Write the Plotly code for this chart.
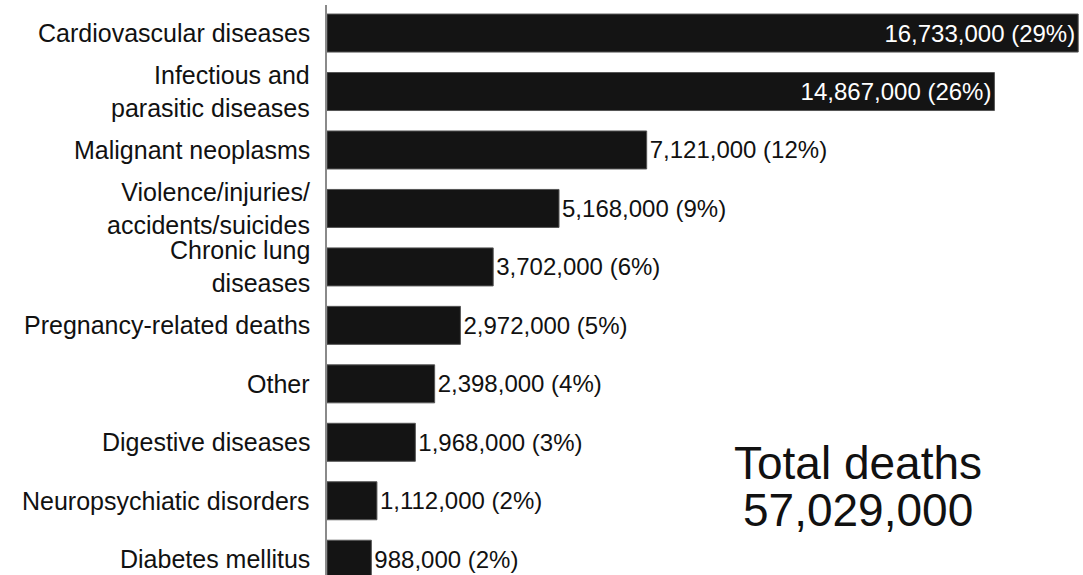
import plotly.graph_objects as go

categories = [
    "Cardiovascular diseases",
    "Infectious and<br>parasitic diseases",
    "Malignant neoplasms",
    "Violence/injuries/<br>accidents/suicides",
    "Chronic lung<br>diseases",
    "Pregnancy-related deaths",
    "Other",
    "Digestive diseases",
    "Neuropsychiatic disorders",
    "Diabetes mellitus",
]
deaths = [16733000, 14867000, 7121000, 5168000, 3702000, 2972000, 2398000, 1968000, 1112000, 988000]
percents = [29, 26, 12, 9, 6, 5, 4, 3, 2, 2]
text_positions = ["inside", "inside", "outside", "outside", "outside", "outside", "outside", "outside", "outside", "outside"]
total_title = "Total deaths"
total_value = "57,029,000"

labels = [f"{v:,} ({p}%)" for v, p in zip(deaths, percents)]
text_colors = ["white" if tp == "inside" else "#111111" for tp in text_positions]

FONT = "Liberation Sans, Arial, Helvetica, sans-serif"

fig = go.Figure(
    go.Bar(
        x=deaths,
        y=categories,
        orientation="h",
        width=0.65,
        marker=dict(color="#141414", line=dict(color="#555555", width=1)),
        text=labels,
        textposition=text_positions,
        insidetextanchor="end",
        textfont=dict(family=FONT, size=24, color=text_colors),
        cliponaxis=False,
        hoverinfo="skip",
    )
)

annotations = [
    dict(
        text=cat, xref="paper", yref="y", x=0, y=cat,
        xanchor="right", yanchor="middle", align="right", xshift=-15,
        showarrow=False,
        font=dict(family=FONT, size=25, color="#111111"),
    )
    for cat in categories
]

annotations += [
    dict(
        text=total_title, xref="paper", yref="paper", x=0.702, y=0.196,
        xanchor="center", yanchor="middle", showarrow=False,
        font=dict(family=FONT, size=46, color="#111111"),
    ),
    dict(
        text=total_value, xref="paper", yref="paper", x=0.702, y=0.114,
        xanchor="center", yanchor="middle", showarrow=False,
        font=dict(family=FONT, size=46, color="#111111"),
    ),
]

fig.update_layout(
    width=1083,
    height=575,
    margin=dict(l=327, r=0, t=5, b=0),
    paper_bgcolor="white",
    plot_bgcolor="white",
    showlegend=False,
    font=dict(family=FONT, color="#111111"),
    xaxis=dict(
        range=[0, 16.84e6],
        visible=False,
        showgrid=False,
        zeroline=False,
    ),
    yaxis=dict(
        type="category",
        categoryorder="array",
        categoryarray=categories,
        range=[9.27, -0.48],
        showline=True,
        linecolor="#8a8a8a",
        linewidth=2,
        ticks="",
        showticklabels=False,
        showgrid=False,
        zeroline=False,
    ),
    annotations=annotations,
)

fig.write_html(
    "out.html",
    config={"displayModeBar": False},
    post_script="document.body.style.margin='0';",
)
